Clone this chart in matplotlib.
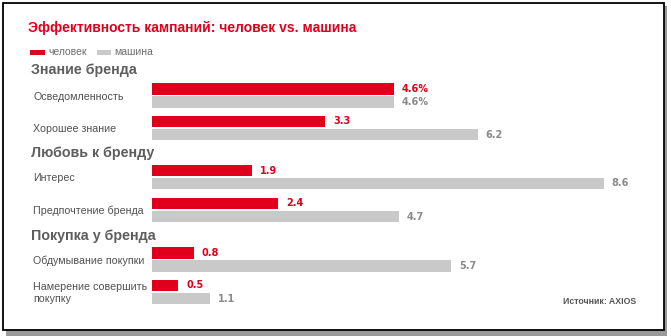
import matplotlib
matplotlib.use("Agg")
import matplotlib.pyplot as plt
from matplotlib.patches import Rectangle
import matplotlib.transforms as mtransforms

# данные
title = "Эффективность кампаний: человек vs. машина"
series_names = ["человек", "машина"]
sections = ["Знание бренда", "Любовь к бренду", "Покупка у бренда"]
categories = ["Осведомленность", "Хорошее знание", "Интерес",
              "Предпочтение бренда", "Обдумывание покупки",
              "Намерение совершить\nпокупку"]
human = [4.6, 3.3, 1.9, 2.4, 0.8, 0.5]
machine = [4.6, 6.2, 8.6, 4.7, 5.7, 1.1]
human_labels = ["4.6%", "3.3", "1.9", "2.4", "0.8", "0.5"]
machine_labels = ["4.6%", "6.2", "8.6", "4.7", "5.7", "1.1"]
source = "Источник: AXIOS"

RED = "#e0001b"
GREY = "#c9c9c9"
W, H = 671, 336
x0 = 152      # пиксель, где начинаются полосы
px = 52.5     # пикселей на единицу

fig = plt.figure(figsize=(W / 100, H / 100), dpi=100)
fig.patch.set_facecolor("white")

# рамка с тенью
fig.patches.append(Rectangle((6 / W, 0), 661 / W, 330 / H, transform=fig.transFigure,
                             facecolor="#9a9a9a", edgecolor="none", zorder=0))
fig.patches.append(Rectangle((3 / W, 6 / H), 661 / W, 327 / H, transform=fig.transFigure,
                             facecolor="white", edgecolor="black", lw=1.3, zorder=1))

ax = fig.add_axes([0, 0, 1, 1])
ax.set_zorder(2)
ax.set_xlim(-x0 / px, (W - x0) / px)
ax.set_ylim(H, 0)
ax.axis("off")
ax.patch.set_alpha(0)

narrow = ["Liberation Sans Narrow", "Liberation Sans", "DejaVu Sans"]
arial = ["Liberation Sans", "DejaVu Sans"]
lbl = mtransforms.blended_transform_factory(fig.transFigure, ax.transData)

row_y = [95.5, 128, 177, 210, 259.5, 292]
sec_y = [70, 153, 236]
bh = 11.5
off = 6.5

ax.barh([y - off for y in row_y], human, height=bh, color=RED, left=0)
ax.barh([y + off for y in row_y], machine, height=bh, color=GREY, left=0)

for i, y in enumerate(row_y):
    ax.text(human[i] + 8 / px, y - off, human_labels[i], color=RED, fontsize=7,
            fontweight="bold", va="center", ha="left", family="DejaVu Sans")
    ax.text(machine[i] + 8 / px, y + off, machine_labels[i], color="#8a8a8a", fontsize=7,
            fontweight="bold", va="center", ha="left", family="DejaVu Sans")
    ax.text(33 / W, y + 1, categories[i], transform=lbl, color="#505050", fontsize=7.7,
            va="center", ha="left", family=narrow, linespacing=1.3)

for s, y in zip(sections, sec_y):
    ax.text(31 / W, y, s, transform=lbl, color="#5e5e5e", fontsize=10.3,
            fontweight="bold", va="center", ha="left", family=arial)

fig.text(28 / W, 1 - 28 / H, title, color=RED, fontsize=10, fontweight="bold",
         va="center", ha="left", family=arial)

# легенда
fig.patches.append(Rectangle((30 / W, 1 - 55 / H), 15 / W, 5 / H, transform=fig.transFigure,
                             facecolor=RED, edgecolor="none", zorder=3))
fig.text(48 / W, 1 - 52 / H, series_names[0], color="#6e6e6e", fontsize=7.5,
         va="center", ha="left", family=narrow)
fig.patches.append(Rectangle((97 / W, 1 - 55 / H), 14 / W, 5 / H, transform=fig.transFigure,
                             facecolor=GREY, edgecolor="none", zorder=3))
fig.text(114 / W, 1 - 52 / H, series_names[1], color="#6e6e6e", fontsize=7.5,
         va="center", ha="left", family=narrow)

fig.text(636 / W, 1 - 302 / H, source, color="#555555", fontsize=6.3, fontweight="bold",
         va="center", ha="right", family=narrow)

fig.savefig("out.png", dpi=100)
